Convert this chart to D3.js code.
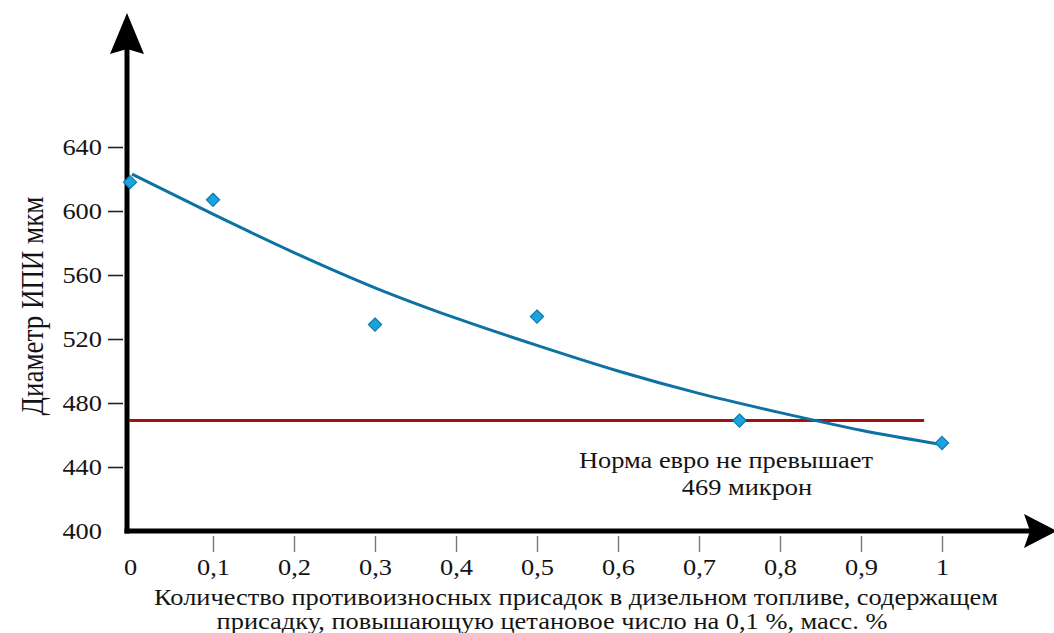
<!DOCTYPE html>
<html>
<head>
<meta charset="utf-8">
<script src="https://cdn.jsdelivr.net/npm/d3@7"></script>
<style>
  html, body { margin: 0; padding: 0; background: #ffffff; }
  svg { display: block; font-family: "Liberation Serif", "DejaVu Serif", serif; }
</style>
</head>
<body>
<svg id="chart" width="1054" height="633"></svg>
<script>
// Measured wear-scar diameters (µm) vs. additive content (% mass)
const additiveShare = [0, 0.1, 0.3, 0.5, 0.75, 1];
const scarDiameter  = [618, 607, 529, 534, 469, 455];

// Smoothed trend through the measurements
const trendShare = [0, 0.1, 0.2, 0.3, 0.4, 0.5, 0.6, 0.7, 0.8, 0.9, 1];
const trendValue = [623, 598, 574, 552, 533, 516, 500, 486, 474, 463, 454];

// Euro limit line
const euroLimit = 469;
const euroLimitSpan = [0, 0.978];

// Axis ticks
const yTicks = [400, 440, 480, 520, 560, 600, 640];
const xTicks = [0, 0.1, 0.2, 0.3, 0.4, 0.5, 0.6, 0.7, 0.8, 0.9, 1];
const xTickLabels = ["0", "0,1", "0,2", "0,3", "0,4", "0,5", "0,6", "0,7", "0,8", "0,9", "1"];

// Typeface is set slightly wide
const widen = 1.1;
const textSize = 24;
const textColor = "#141414";

const svg = d3.select("#chart");

const x = d3.scaleLinear().domain([0, 1]).range([132, 942]);
const y = d3.scaleLinear().domain([400, 640]).range([531, 147]);

const axisX = 127;   // vertical axis line position
const axisY = 531;   // horizontal axis line position

// Y axis ticks & labels
const gy = svg.append("g")
  .attr("transform", `translate(${axisX - 4},0)`)
  .call(d3.axisLeft(y).tickValues(yTicks).tickSize(15).tickPadding(6).tickFormat(d3.format("d")));
gy.select(".domain").remove();
gy.selectAll(".tick line")
  .attr("stroke", "#222").attr("stroke-width", 1.6)
  .style("display", d => d === 400 ? "none" : null);
gy.selectAll(".tick text")
  .attr("fill", textColor).attr("font-size", textSize)
  .attr("font-family", "Liberation Serif, serif")
  .attr("x", 0)
  .attr("transform", `translate(-21,0) scale(${widen},1)`);

// X axis ticks & labels
const gx = svg.append("g")
  .attr("transform", `translate(0,${axisY + 5})`)
  .call(d3.axisBottom(x).tickValues(xTicks).tickSize(16)
    .tickFormat((d, i) => xTickLabels[i]));
gx.select(".domain").remove();
gx.selectAll(".tick line")
  .attr("stroke", "#777").attr("stroke-width", 1.4)
  .style("display", d => d === 0 ? "none" : null);
gx.selectAll(".tick text")
  .attr("fill", textColor).attr("font-size", textSize)
  .attr("font-family", "Liberation Serif, serif")
  .attr("y", 0).attr("dy", 0)
  .attr("transform", d => `translate(${d === 0 ? -2 : 0},39) scale(${widen},1)`);

// Main axis lines with arrowheads
svg.append("line")
  .attr("x1", axisX).attr("x2", axisX)
  .attr("y1", 45).attr("y2", axisY + 2.5)
  .attr("stroke", "#000").attr("stroke-width", 5);
svg.append("line")
  .attr("x1", axisX - 2.5).attr("x2", 1030)
  .attr("y1", axisY).attr("y2", axisY)
  .attr("stroke", "#000").attr("stroke-width", 5);
svg.append("path")
  .attr("d", `M${axisX},13 L${axisX + 17},54 L${axisX},49 L${axisX - 17},54 Z`)
  .attr("fill", "#000");
svg.append("path")
  .attr("d", `M1057,${axisY} L1024,${axisY - 17} L1030,${axisY} L1024,${axisY + 17} Z`)
  .attr("fill", "#000");

// Euro limit line
svg.append("line")
  .attr("x1", axisX + 2).attr("x2", x(euroLimitSpan[1]))
  .attr("y1", y(euroLimit)).attr("y2", y(euroLimit))
  .attr("stroke", "#a3100f").attr("stroke-width", 3);

// Trend curve
const trendLine = d3.line()
  .x((d, i) => x(trendShare[i]))
  .y(d => y(d))
  .curve(d3.curveMonotoneX);
svg.append("path")
  .datum(trendValue)
  .attr("d", trendLine)
  .attr("fill", "none")
  .attr("stroke", "#0d72a3")
  .attr("stroke-width", 3);

// Measured points (diamonds)
svg.append("g").selectAll("path")
  .data(scarDiameter)
  .join("path")
  .attr("d", d3.symbol().type(d3.symbolDiamond2).size(110))
  .attr("transform", (d, i) => `translate(${x(additiveShare[i]) - (i === 0 ? 2 : 0)},${y(d)})`)
  .attr("fill", "#1da3dc")
  .attr("stroke", "#0b78ad")
  .attr("stroke-width", 1.2);

// Text placed at (cx, baseline) and widened horizontally
function wideText(cx, by, str) {
  return svg.append("text")
    .attr("transform", `translate(${cx},${by}) scale(${widen},1)`)
    .attr("text-anchor", "middle")
    .attr("font-size", textSize)
    .attr("fill", textColor)
    .text(str);
}

// Annotation for the limit line
wideText(726, 468, "Норма евро не превышает");
wideText(747, 495, `${euroLimit} микрон`);

// Axis titles
wideText(576, 605, "Количество противоизносных присадок в дизельном топливе, содержащем");
wideText(552, 629, "присадку, повышающую цетановое число на 0,1 %, масс. %");

svg.append("text")
  .attr("transform", `translate(43,306) rotate(-90) scale(1,1.2)`)
  .attr("text-anchor", "middle")
  .attr("font-size", 27).attr("fill", textColor)
  .text("Диаметр ИПИ мкм");
</script>
</body>
</html>
